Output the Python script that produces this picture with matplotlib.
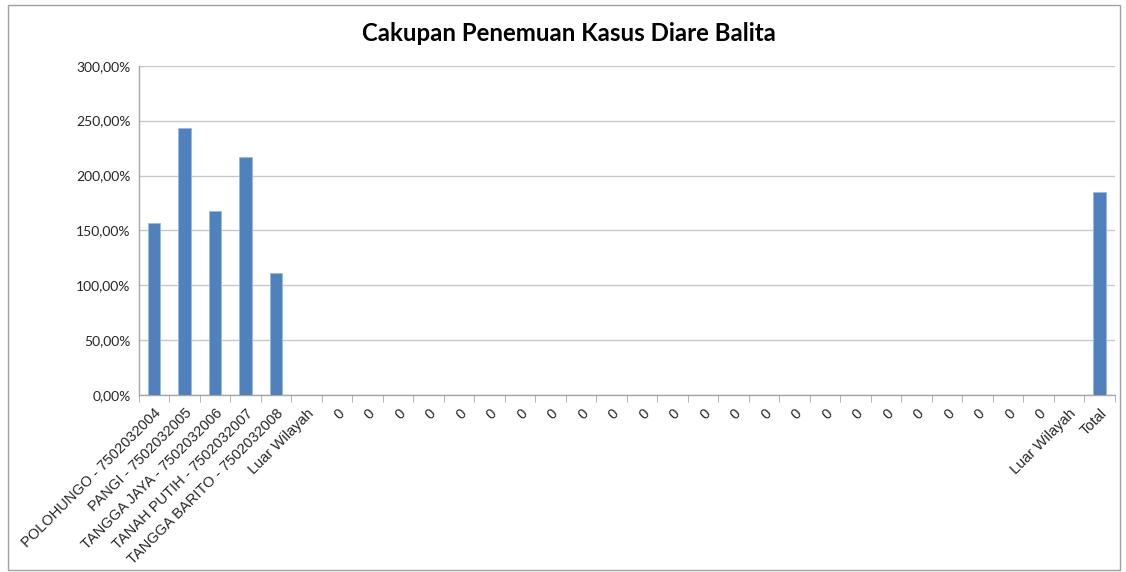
import matplotlib
matplotlib.use("Agg")
import matplotlib.pyplot as plt
import numpy as np
from matplotlib.patches import Rectangle

categories = (["POLOHUNGO - 7502032004", "PANGI - 7502032005", "TANGGA JAYA - 7502032006",
               "TANAH PUTIH - 7502032007", "TANGGA BARITO - 7502032008", "Luar Wilayah"]
              + ["0"] * 24 + ["Luar Wilayah", "Total"])
values = ([157.0, 243.0, 168.0, 217.0, 111.5, 0.0]
          + [0.0] * 24 + [0.0, 184.8])
yticks = [0, 50, 100, 150, 200, 250, 300]

fig = plt.figure(figsize=(11.26, 5.72), dpi=100)
ax = fig.add_axes([0.1232, 0.3094, 0.8668, 0.5756])

x = np.arange(len(categories))
ax.bar(x, values, width=0.42, color="#4F81BD", edgecolor="#9DB9DD", linewidth=0.6, zorder=3)

ax.set_xlim(-0.5, len(categories) - 0.5)
ax.set_ylim(0, 300)
ax.set_yticks(yticks)
ax.set_yticklabels([f"{v:.2f}".replace(".", ",") + "%" for v in yticks],
                   fontsize=10, family="Lato", color="#262626")
ax.yaxis.grid(True, color="#C8C8C8", linewidth=1, zorder=0)
ax.tick_params(axis="y", length=0, pad=6)

ax.set_xticks(x)
ax.set_xticklabels(categories, rotation=45, ha="right", rotation_mode="anchor",
                   fontsize=10.5, family="Liberation Sans", color="#262626")
ax.tick_params(axis="x", which="major", length=0, pad=8)
ax.set_xticks(np.arange(-0.5, len(categories), 1.0), minor=True)
ax.tick_params(axis="x", which="minor", length=5, color="#A6A6A6", direction="out")

for s in ["top", "right"]:
    ax.spines[s].set_visible(False)
for s in ["left", "bottom"]:
    ax.spines[s].set_color("#A6A6A6")
    ax.spines[s].set_linewidth(1)

fig.text(0.505, 0.942, "Cakupan Penemuan Kasus Diare Balita", ha="center", va="center",
         fontsize=17.3, fontweight="bold", family="Lato", color="#000000")

fig.patches.append(Rectangle((0.007, 0.004), 0.988, 0.988, transform=fig.transFigure,
                             fill=False, edgecolor="#A0A0A0", linewidth=1))

fig.savefig("out.png", dpi=100)
